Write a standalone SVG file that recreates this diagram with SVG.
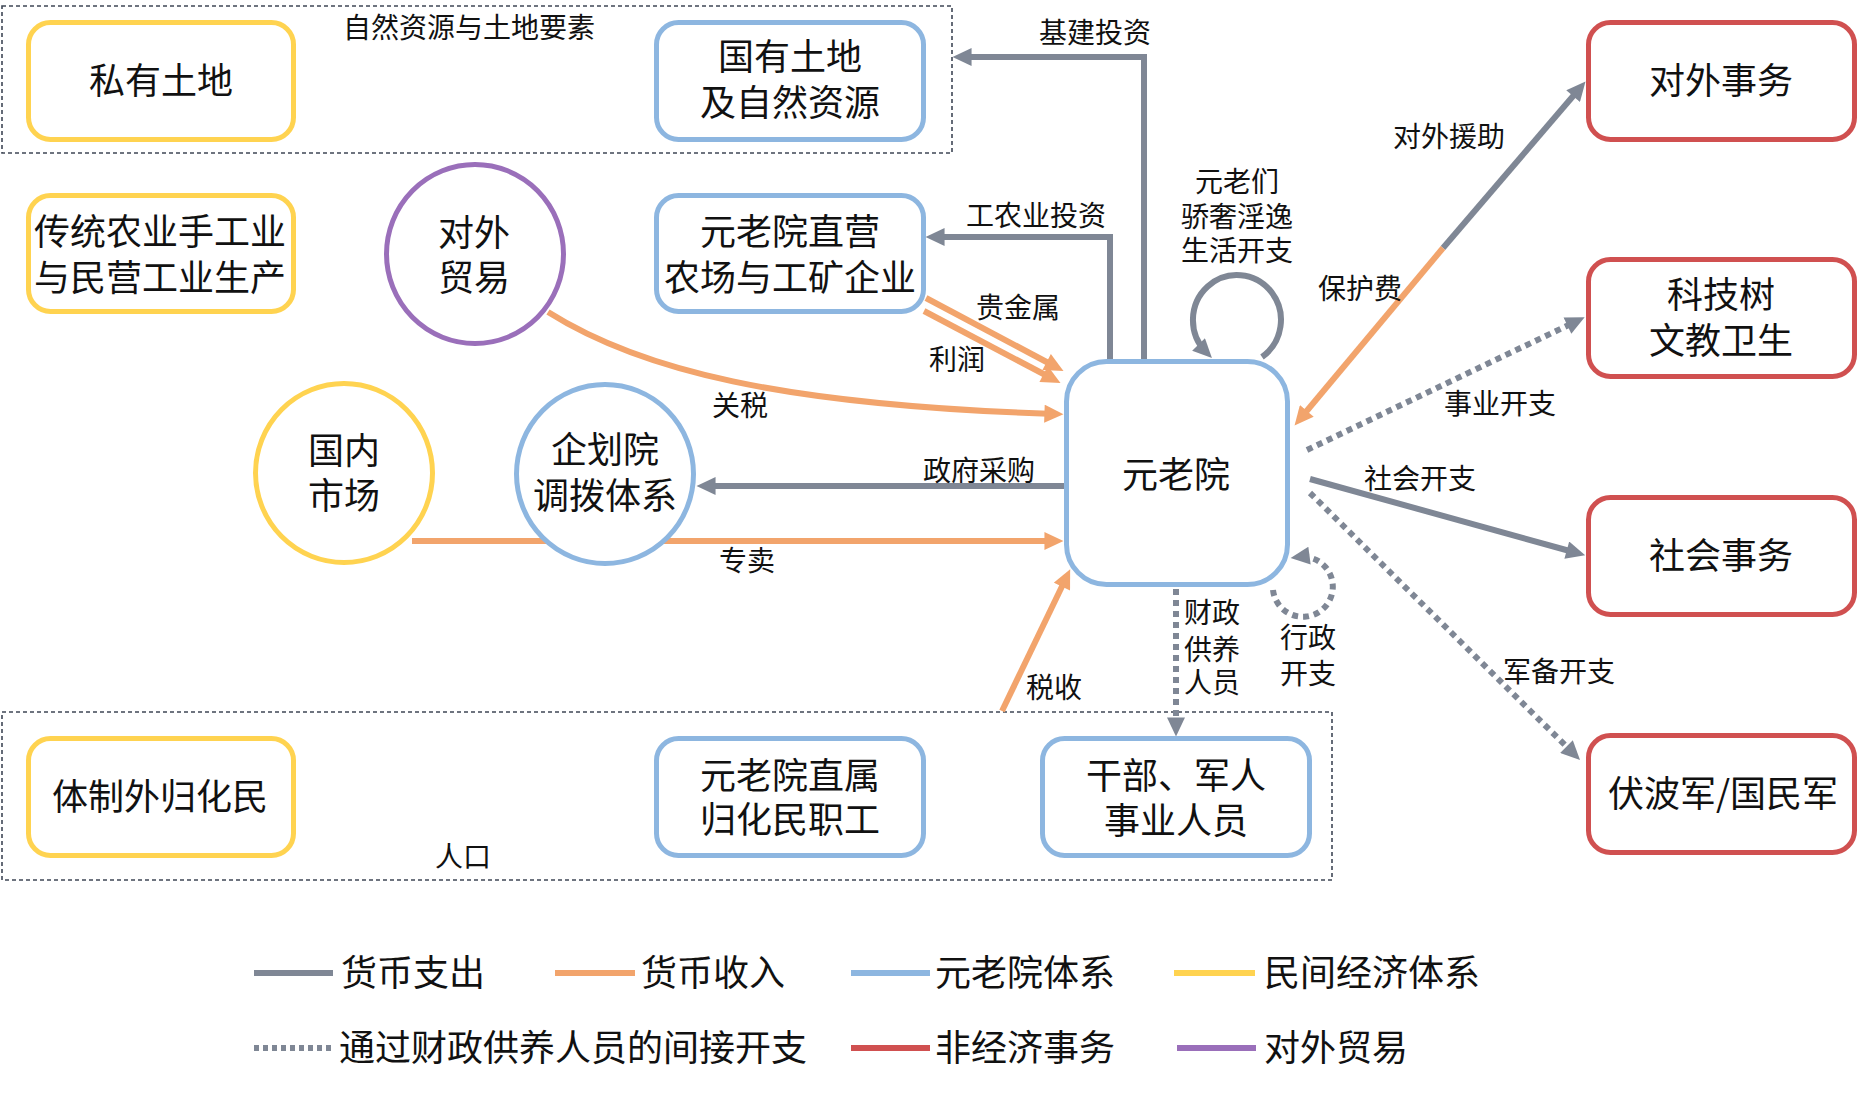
<svg xmlns="http://www.w3.org/2000/svg" width="1868" height="1094" viewBox="0 0 1868 1094">
<style>
text{font-family:"Noto Sans CJK SC","Noto Sans",sans-serif;fill:#111;text-anchor:middle}
.n{font-size:36px}
.l{font-size:28px}
.lg{font-size:36px;text-anchor:start}
.box{fill:#fff;stroke-width:5}
.y{stroke:#FFD350}
.b{stroke:#8DB6E0}
.r{stroke:#D05050}
.p{stroke:#9A6FBA}
.grp{fill:none;stroke:#3F4756;stroke-width:1.6;stroke-dasharray:4 3}
.g{fill:none;stroke:#7F8795;stroke-width:6}
.o{fill:none;stroke:#F2A46C;stroke-width:6}
.d{fill:none;stroke:#7F8795;stroke-width:6;stroke-dasharray:6 5}
.ga{marker-end:url(#ag)}
.oa{marker-end:url(#ao)}
</style>
<defs>
<marker id="ag" markerUnits="userSpaceOnUse" markerWidth="20" markerHeight="18" refX="10" refY="8.5" orient="auto" viewBox="0 0 18 17"><path d="M0,0 L18,8.5 L0,17 z" fill="#7F8795"/></marker>
<marker id="ao" markerUnits="userSpaceOnUse" markerWidth="20" markerHeight="18" refX="10" refY="8.5" orient="auto" viewBox="0 0 18 17"><path d="M0,0 L18,8.5 L0,17 z" fill="#F2A46C"/></marker>
</defs>
<rect width="1868" height="1094" fill="#fff"/>

<g id="groups">
<rect class="grp" x="2" y="6" width="950" height="147"/>
<text class="l" x="469" y="38">自然资源与土地要素</text>
<rect class="grp" x="2" y="712" width="1330" height="168"/>
<text class="l" x="463" y="867">人口</text>
</g>

<g id="connectors">
<path class="g ga" d="M1144,359 V57 H961"/>
<text class="l" x="1095" y="43">基建投资</text>
<path class="g ga" d="M1110,359 V237 H934"/>
<text class="l" x="1036" y="226">工农业投资</text>
<path class="o oa" d="M926,298 L1056,367"/>
<text class="l" x="1018" y="318">贵金属</text>
<path class="o oa" d="M924,311 L1053,379"/>
<text class="l" x="957" y="370">利润</text>
<path class="o oa" d="M548,312 C640,370 780,405 1055,414"/>
<text class="l" x="740" y="416">关税</text>
<path class="g ga" d="M1064,486 H705"/>
<text class="l" x="979" y="481">政府采购</text>
<path class="o oa" d="M412,541 H1055"/>
<text class="l" x="747" y="571">专卖</text>
<path class="o oa" d="M1002,711 L1066.5,577"/>
<text class="l" x="1054" y="698">税收</text>
<path class="d ga" d="M1176,589 V728"/>
<text class="l" x="1212" y="623">财政</text>
<text class="l" x="1212" y="660">供养</text>
<text class="l" x="1212" y="693">人员</text>
<path class="d ga" d="M1273,590 A30,30 0 1 0 1299,557"/>
<text class="l" x="1308" y="648">行政</text>
<text class="l" x="1308" y="684">开支</text>
<path class="g ga" d="M1262,357 A44,45 0 1 0 1206,352"/>
<text class="l" x="1237" y="192">元老们</text>
<text class="l" x="1237" y="227">骄奢淫逸</text>
<text class="l" x="1237" y="261">生活开支</text>
<path class="g ga" d="M1443,248 L1580,88"/>
<text class="l" x="1449" y="147">对外援助</text>
<path class="o oa" d="M1443,248 L1300,419"/>
<text class="l" x="1360" y="299">保护费</text>
<path class="d ga" d="M1307,450 L1577,321"/>
<text class="l" x="1500" y="414">事业开支</text>
<path class="g ga" d="M1310,479 L1577,553"/>
<text class="l" x="1420" y="489">社会开支</text>
<path class="d ga" d="M1310,493 L1574,754"/>
<text class="l" x="1559" y="682">军备开支</text>
</g>

<g id="n-private-land">
<rect class="box y" x="28.5" y="22.5" width="265" height="117" rx="22"/>
<text class="n" x="161" y="94">私有土地</text>
</g>
<g id="n-state-land">
<rect class="box b" x="656.5" y="22.5" width="267" height="117" rx="22"/>
<text class="n" x="790" y="70">国有土地</text>
<text class="n" x="790" y="116">及自然资源</text>
</g>
<g id="n-traditional">
<rect class="box y" x="28.5" y="195.5" width="265" height="116" rx="22"/>
<text class="n" x="160" y="245">传统农业手工业</text>
<text class="n" x="160" y="291">与民营工业生产</text>
</g>
<g id="n-foreign-trade">
<ellipse class="box p" cx="475" cy="254" rx="88.5" ry="89.5"/>
<text class="n" x="474" y="246">对外</text>
<text class="n" x="474" y="291">贸易</text>
</g>
<g id="n-direct-farms">
<rect class="box b" x="656.5" y="195.5" width="267" height="116" rx="22"/>
<text class="n" x="790" y="245">元老院直营</text>
<text class="n" x="790" y="291">农场与工矿企业</text>
</g>
<g id="n-domestic-market">
<ellipse class="box y" cx="344" cy="473" rx="88.5" ry="89.5"/>
<text class="n" x="344" y="464">国内</text>
<text class="n" x="344" y="509">市场</text>
</g>
<g id="n-planning">
<ellipse class="box b" cx="605" cy="474" rx="88.5" ry="89.5"/>
<text class="n" x="605" y="463">企划院</text>
<text class="n" x="605" y="509">调拨体系</text>
</g>
<g id="n-senate">
<rect class="box b" x="1066.5" y="361.5" width="221" height="223" rx="40"/>
<text class="n" x="1176" y="488">元老院</text>
</g>
<g id="n-outside-citizens">
<rect class="box y" x="28.5" y="738.5" width="265" height="117" rx="22"/>
<text class="n" x="160" y="810">体制外归化民</text>
</g>
<g id="n-direct-workers">
<rect class="box b" x="656.5" y="738.5" width="267" height="117" rx="22"/>
<text class="n" x="790" y="789">元老院直属</text>
<text class="n" x="790" y="833">归化民职工</text>
</g>
<g id="n-cadres">
<rect class="box b" x="1042.5" y="738.5" width="267" height="117" rx="22"/>
<text class="n" x="1176" y="789">干部、军人</text>
<text class="n" x="1176" y="834">事业人员</text>
</g>
<g id="n-foreign-affairs">
<rect class="box r" x="1588.5" y="22.5" width="266" height="117" rx="22"/>
<text class="n" x="1721" y="94">对外事务</text>
</g>
<g id="n-tech">
<rect class="box r" x="1588.5" y="259.5" width="266" height="117" rx="22"/>
<text class="n" x="1721" y="308">科技树</text>
<text class="n" x="1721" y="354">文教卫生</text>
</g>
<g id="n-social">
<rect class="box r" x="1588.5" y="497.5" width="266" height="117" rx="22"/>
<text class="n" x="1721" y="569">社会事务</text>
</g>
<g id="n-army">
<rect class="box r" x="1588.5" y="735.5" width="266" height="117" rx="22"/>
<text class="n" x="1723" y="807">伏波军/国民军</text>
</g>

<g id="legend">
<line class="g" x1="254" y1="973" x2="333" y2="973"/>
<text class="lg" x="341" y="986">货币支出</text>
<line class="o" x1="555" y1="973" x2="635" y2="973"/>
<text class="lg" x="641" y="986">货币收入</text>
<line x1="851" y1="973" x2="930" y2="973" stroke="#8DB6E0" stroke-width="6"/>
<text class="lg" x="935" y="986">元老院体系</text>
<line x1="1174" y1="973" x2="1255" y2="973" stroke="#FFD350" stroke-width="6"/>
<text class="lg" x="1264" y="986">民间经济体系</text>
<line class="d" x1="254" y1="1048" x2="333" y2="1048" style="stroke-dasharray:5 4"/>
<text class="lg" x="339" y="1061">通过财政供养人员的间接开支</text>
<line x1="851" y1="1048" x2="930" y2="1048" stroke="#D05050" stroke-width="6"/>
<text class="lg" x="935" y="1061">非经济事务</text>
<line x1="1177" y1="1048" x2="1256" y2="1048" stroke="#9A6FBA" stroke-width="6"/>
<text class="lg" x="1264" y="1061">对外贸易</text>
</g>
</svg>
